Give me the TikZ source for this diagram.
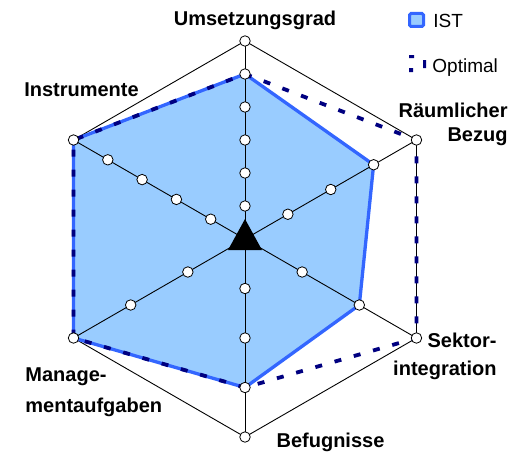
\documentclass[tikz,border=0pt]{standalone}
\usepackage{fontspec}
\setmainfont{Liberation Sans}
\usetikzlibrary{calc}

\definecolor{istfill}{HTML}{99CCFF}
\definecolor{istline}{HTML}{3366FF}
\definecolor{optline}{HTML}{000080}

\begin{document}
\begin{tikzpicture}[x=1pt,y=1pt,line width=0.9pt,
                    marker/.style={circle,draw=black,fill=white,line width=0.8pt,
                                   inner sep=0pt,minimum size=10.5pt},
                    lab/.style={font=\bfseries\fontsize{20}{23.5}\selectfont,inner sep=0pt},
                    leg/.style={font=\fontsize{19}{22}\selectfont,inner sep=0pt}]
  \useasboundingbox (0,0) rectangle (526,451);

  \coordinate (O) at (245,212);
  \foreach \n/\a in {U/90,R/30,S/-30,B/-90,M/210,I/150}
    \coordinate (\n) at ($(O)+(\a:198)$);

  \coordinate (istU) at ($(O)+(90:165)$);
  \coordinate (istR) at ($(O)+(30:148.5)$);
  \coordinate (istS) at ($(O)+(-30:132)$);
  \coordinate (istB) at ($(O)+(-90:148.5)$);

  \fill[istfill] (istU) -- (istR) -- (istS) -- (istB) -- (M) -- (I) -- cycle;

  \foreach \n in {U,R,S,B,M,I}
    \draw (O) -- (\n);
  \draw (U) -- (R) -- (S) -- (B) -- (M) -- (I) -- cycle;

  \draw[istline,line width=3.3pt,line join=round]
    (istU) -- (istR) -- (istS) -- (istB) -- (M) -- (I) -- cycle;
  \draw[optline,line width=3.8pt,dash pattern=on 7pt off 13pt]
    (istU) -- (R) -- (S) -- (istB) -- (M) -- (I) -- cycle;

  % skalenpunkte
  \foreach \n/\a/\m in {U/90/6,R/30/4,S/-30/3,B/-90/4,M/210/3,I/150/5}
    \foreach \k in {1,...,\m}
      \node[marker] (\n\k) at ($(O)+(\a:{\k*198/\m})$) {};

  \fill (O) ++(0,20) -- ++(-17,-31) -- ++(34,0) -- cycle;

  \node[lab,anchor=base]       (umsetzung)   at (255,425)   {Umsetzungsgrad};
  \node[lab,anchor=base]       (instrumente) at (81.5,355)  {Instrumente};
  \node[lab,anchor=north east,align=right] (raeumlich) at (508,348) {Räumlicher\\Bezug};
  \node[lab,anchor=north east,align=right] (sektor)    at (497,118.5) {Sektor-\\[5pt]integration};
  \node[lab,anchor=north west,align=left]  (management) at (25,84) {Manage-\\[8pt]mentaufgaben};
  \node[lab,anchor=base]       (befugnisse)  at (330.5,4)   {Befugnisse};

  % legende
  \draw[istline,fill=istfill,line width=3pt,rounded corners=1.5pt]
    (409.5,424.5) rectangle (423.5,437.5);
  \node[leg,anchor=base west] (ist) at (433,423) {IST};
  \fill[optline] (409,393) rectangle (414,396)
                 (409,379) rectangle (413,383)
                 (423,383) rectangle (426,391);
  \node[leg,anchor=base west] (optimal) at (432,379) {Optimal};
\end{tikzpicture}
\end{document}
